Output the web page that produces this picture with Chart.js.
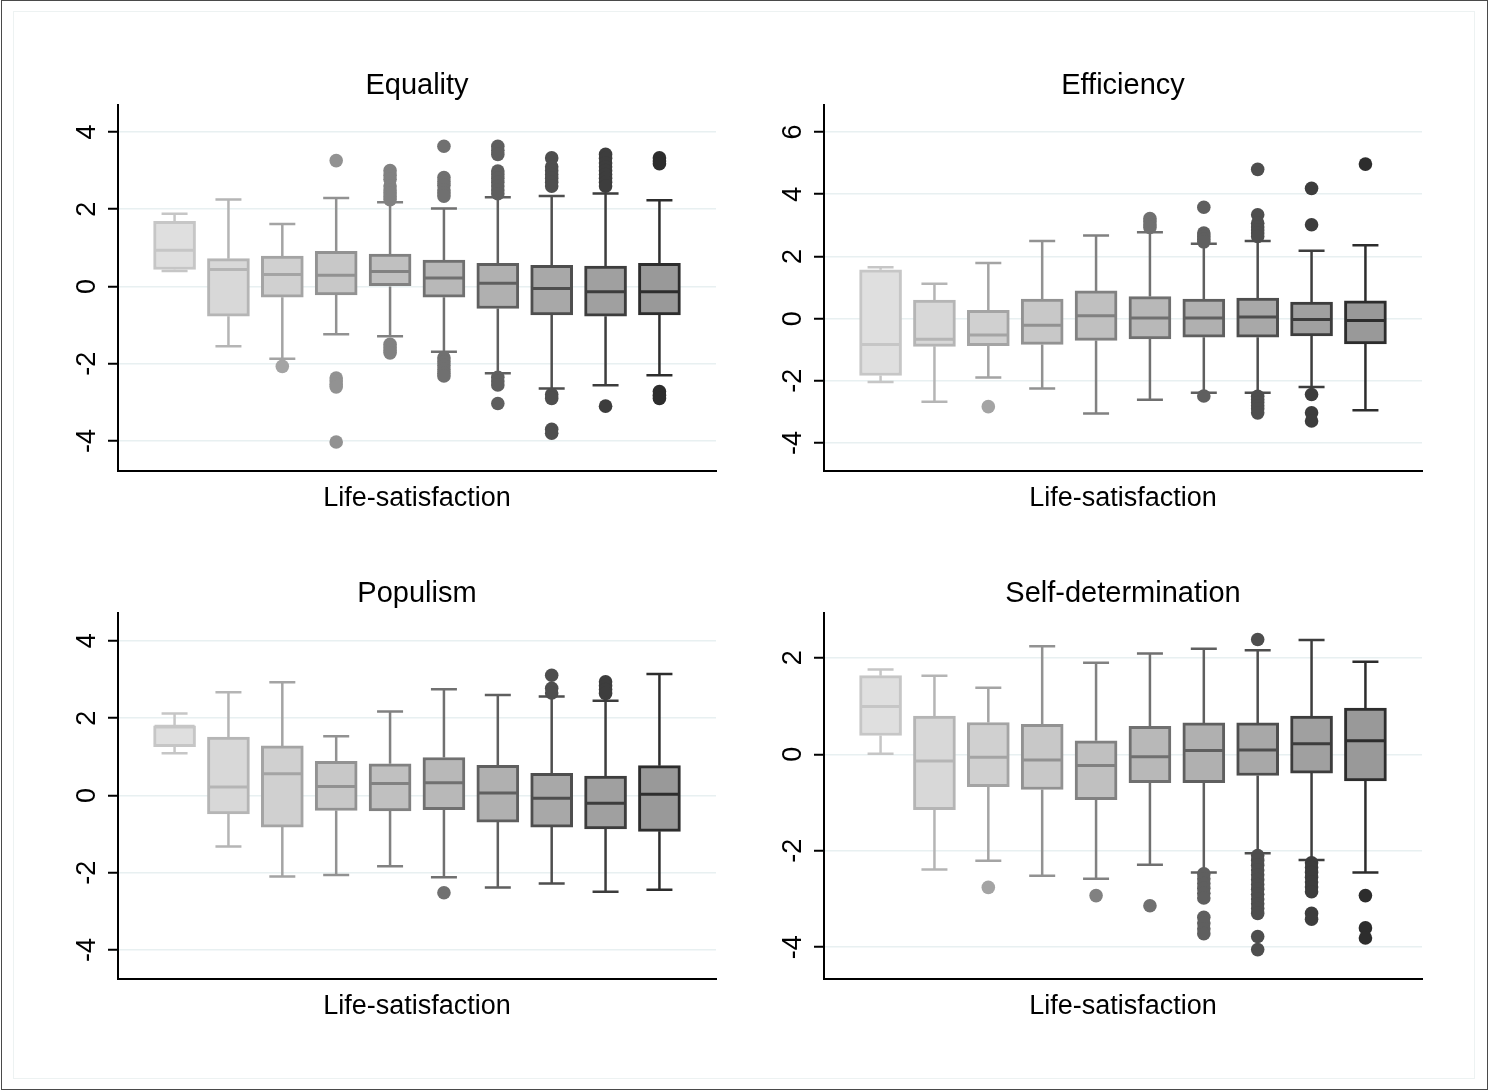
<!DOCTYPE html>
<html>
<head>
<meta charset="utf-8">
<title>Box plots by life-satisfaction</title>
<script src="https://cdn.jsdelivr.net/npm/chart.js@4.4.1/dist/chart.umd.min.js"></script>
<style>
  html, body { margin: 0; padding: 0; background: #ffffff; }
  body { width: 1488px; height: 1090px; position: relative; overflow: hidden; }
  #frame { position: absolute; left: 1px; top: 0; width: 1485px; height: 1088px; border: 1px solid #4a4a4a; box-sizing: content-box; }
  #inner { position: absolute; left: 13px; top: 11px; width: 1460px; height: 1066px; border: 1px solid #edf2f2; }
  canvas { position: absolute; }
</style>
</head>
<body>
<div id="frame"></div>
<div id="inner"></div>
<canvas id="equality" width="744" height="540" style="left:0px;top:0px"></canvas>
<canvas id="efficiency" width="744" height="540" style="left:706px;top:0px"></canvas>
<canvas id="populism" width="744" height="540" style="left:0px;top:508px"></canvas>
<canvas id="selfdet" width="744" height="540" style="left:706px;top:508px"></canvas>
<script>
// Life-satisfaction groups (one box per group)
const groups = [1, 2, 3, 4, 5, 6, 7, 8, 9, 10];

// ---- Equality ----
const equalityLowerWhisker = [0.40, -1.55, -1.87, -1.24, -1.29, -1.69, -2.25, -2.64, -2.56, -2.30];
const equalityQ1           = [0.44, -0.77, -0.28, -0.22, 0.00, -0.28, -0.57, -0.74, -0.77, -0.74];
const equalityMedian       = [0.94, 0.44, 0.31, 0.29, 0.39, 0.22, 0.08, -0.05, -0.14, -0.14];
const equalityQ3           = [1.69, 0.72, 0.79, 0.91, 0.84, 0.68, 0.60, 0.55, 0.53, 0.60];
const equalityUpperWhisker = [1.88, 2.25, 1.62, 2.29, 2.18, 2.02, 2.31, 2.34, 2.41, 2.23];
const equalityOutliers = [
  [],
  [],
  [-2.07],
  [3.26, -2.37, -2.45, -2.53, -2.60, -4.03],
  [3.00, 2.88, 2.78, 2.60, 2.50, 2.42, 2.33, 2.25, -1.50, -1.58, -1.66, -1.72],
  [3.63, 2.82, 2.72, 2.62, 2.50, 2.42, 2.34, -1.85, -1.95, -2.05, -2.15, -2.25, -2.32],
  [3.63, 3.53, 3.42, 2.99, 2.90, 2.80, 2.70, 2.60, 2.50, 2.40, -2.35, -2.45, -2.55, -3.03],
  [3.33, 3.10, 3.00, 2.90, 2.80, 2.70, 2.60, -2.80, -2.90, -3.70, -3.80],
  [3.42, 3.32, 3.20, 3.10, 3.00, 2.90, 2.80, 2.70, 2.60, -3.10],
  [3.33, 3.25, 3.18, -2.72, -2.82, -2.90]
];
const equalityTicks = [-4, -2, 0, 2, 4];

// ---- Efficiency ----
const efficiencyLowerWhisker = [-2.04, -2.67, -1.89, -2.25, -3.05, -2.61, -2.38, -2.38, -2.20, -2.95];
const efficiencyQ1           = [-1.83, -0.89, -0.87, -0.83, -0.70, -0.65, -0.60, -0.60, -0.56, -0.81];
const efficiencyMedian       = [-0.83, -0.66, -0.53, -0.21, 0.09, 0.02, 0.02, 0.05, -0.03, -0.06];
const efficiencyQ3           = [1.57, 0.60, 0.27, 0.63, 0.89, 0.71, 0.63, 0.66, 0.53, 0.57];
const efficiencyUpperWhisker = [1.65, 1.12, 1.79, 2.50, 2.67, 2.78, 2.41, 2.50, 2.18, 2.36];
const efficiencyOutliers = [
  [],
  [],
  [-2.83],
  [],
  [],
  [3.22, 3.12, 3.02, 2.93],
  [3.58, 2.75, 2.65, 2.55, 2.47, -2.49],
  [4.80, 3.34, 3.07, 2.95, 2.85, 2.75, 2.64, -2.50, -2.60, -2.70, -2.80, -2.90, -3.03],
  [4.19, 3.02, -2.44, -3.03, -3.29],
  [4.97]
];
const efficiencyTicks = [-4, -2, 0, 2, 4, 6];

// ---- Populism ----
const populismLowerWhisker = [1.09, -1.32, -2.10, -2.06, -1.83, -2.12, -2.38, -2.28, -2.49, -2.44];
const populismQ1           = [1.26, -0.48, -0.82, -0.39, -0.40, -0.37, -0.69, -0.82, -0.87, -0.93];
const populismMedian       = [1.79, 0.22, 0.56, 0.23, 0.31, 0.33, 0.06, -0.07, -0.20, 0.03];
const populismQ3           = [1.80, 1.51, 1.28, 0.88, 0.82, 0.98, 0.78, 0.57, 0.50, 0.77];
const populismUpperWhisker = [2.12, 2.67, 2.93, 1.53, 2.17, 2.75, 2.60, 2.56, 2.45, 3.14];
const populismOutliers = [
  [],
  [],
  [],
  [],
  [],
  [-2.52],
  [],
  [3.11, 2.77, 2.65],
  [2.94, 2.84, 2.74, 2.64],
  []
];
const populismTicks = [-4, -2, 0, 2, 4];

// ---- Self-determination ----
const selfDetLowerWhisker = [0.01, -2.39, -2.21, -2.52, -2.58, -2.29, -2.45, -2.05, -2.19, -2.45];
const selfDetQ1           = [0.39, -1.15, -0.67, -0.73, -0.94, -0.59, -0.59, -0.44, -0.39, -0.55];
const selfDetMedian       = [0.99, -0.14, -0.06, -0.12, -0.23, -0.05, 0.08, 0.09, 0.22, 0.28];
const selfDetQ3           = [1.63, 0.79, 0.66, 0.62, 0.28, 0.58, 0.65, 0.65, 0.79, 0.96];
const selfDetUpperWhisker = [1.76, 1.63, 1.38, 2.24, 1.90, 2.09, 2.19, 2.16, 2.37, 1.92];
const selfDetOutliers = [
  [],
  [],
  [-2.76],
  [],
  [-2.93],
  [-3.14],
  [-2.48, -2.58, -2.68, -2.78, -2.88, -2.98, -3.38, -3.50, -3.62, -3.72],
  [2.38, -2.10, -2.20, -2.30, -2.40, -2.50, -2.60, -2.70, -2.80, -2.90, -3.00, -3.10, -3.20, -3.30, -3.78, -4.05],
  [-2.25, -2.35, -2.45, -2.55, -2.65, -2.75, -2.85, -3.30, -3.42],
  [-2.93, -3.60, -3.81]
];
const selfDetTicks = [-4, -2, 0, 2];

// Grey ramp, light to dark across the groups
const boxFills  = ['#dfdfdf', '#d8d8d8', '#d0d0d0', '#c8c8c8', '#c0c0c0', '#b8b8b8', '#b0b0b0', '#a8a8a8', '#a0a0a0', '#999999'];
const boxLines  = ['#c6c6c6', '#b5b5b5', '#a4a4a4', '#929292', '#818181', '#707070', '#5f5f5f', '#4e4e4e', '#3d3d3d', '#2d2d2d'];

const FONT = "'Liberation Sans', Arial, Helvetica, sans-serif";
const BOX_WIDTH = 42;
const CAP_WIDTH = 26;

// Whiskers and caps go under the boxes; medians go on top of the box fill.
const boxPlotPlugin = {
  id: 'boxPlotParts',
  beforeDatasetsDraw(chart, args, opts) {
    const { ctx, scales: { x, y } } = chart;
    const st = opts.stats;
    ctx.save();
    ctx.lineWidth = 2.5;
    ctx.lineCap = 'butt';
    groups.forEach((g, i) => {
      const cx = x.getPixelForValue(g);
      ctx.strokeStyle = boxLines[i];
      const yLo = y.getPixelForValue(st.lo[i]);
      const yQ1 = y.getPixelForValue(st.q1[i]);
      const yQ3 = y.getPixelForValue(st.q3[i]);
      const yHi = y.getPixelForValue(st.hi[i]);
      ctx.beginPath();
      ctx.moveTo(cx, yQ3); ctx.lineTo(cx, yHi);
      ctx.moveTo(cx, yQ1); ctx.lineTo(cx, yLo);
      ctx.moveTo(cx - CAP_WIDTH / 2, yHi); ctx.lineTo(cx + CAP_WIDTH / 2, yHi);
      ctx.moveTo(cx - CAP_WIDTH / 2, yLo); ctx.lineTo(cx + CAP_WIDTH / 2, yLo);
      ctx.stroke();
    });
    ctx.restore();
  },
  afterDatasetDraw(chart, args, opts) {
    if (args.meta.type !== 'bar') return;
    const { ctx, scales: { x, y } } = chart;
    const st = opts.stats;
    ctx.save();
    ctx.lineWidth = 3;
    groups.forEach((g, i) => {
      const cx = x.getPixelForValue(g);
      const ym = y.getPixelForValue(st.med[i]);
      ctx.strokeStyle = boxLines[i];
      ctx.beginPath();
      ctx.moveTo(cx - BOX_WIDTH / 2 + 1, ym);
      ctx.lineTo(cx + BOX_WIDTH / 2 - 1, ym);
      ctx.stroke();
    });
    ctx.restore();
  }
};

function makePanel(canvasId, title, st, yMin, yMax, yTicks) {
  const boxes = groups.map((g, i) => ({ x: g, y: [st.q1[i], st.q3[i]] }));
  const outPts = [];
  const outColors = [];
  groups.forEach((g, i) => {
    st.out[i].forEach(v => { outPts.push({ x: g, y: v }); outColors.push(boxLines[i]); });
  });

  new Chart(document.getElementById(canvasId), {
    type: 'bar',
    data: {
      datasets: [
        {
          type: 'bar',
          data: boxes,
          backgroundColor: boxFills,
          borderColor: boxLines,
          borderWidth: 3,
          borderSkipped: false,
          barThickness: BOX_WIDTH,
          order: 1
        },
        {
          type: 'scatter',
          data: outPts,
          pointRadius: 6.8,
          pointBackgroundColor: outColors,
          pointBorderWidth: 0,
          order: 0
        }
      ]
    },
    options: {
      responsive: false,
      animation: false,
      events: [],
      devicePixelRatio: 1,
      layout: { padding: { left: 0, right: 28, top: 68.6, bottom: 24.8 } },
      plugins: {
        legend: { display: false },
        tooltip: { enabled: false },
        title: {
          display: true,
          text: title,
          fullSize: false,
          color: '#000000',
          font: { family: FONT, size: 29, weight: 'normal' },
          padding: { top: 0, bottom: 1.6 }
        },
        boxPlotParts: { stats: st }
      },
      scales: {
        x: {
          type: 'linear',
          offset: false,
          min: -0.05,
          max: 11.05,
          ticks: { display: false },
          grid: { display: false, offset: false },
          border: { display: true, color: '#000000', width: 2 },
          title: {
            display: true,
            text: 'Life-satisfaction',
            color: '#000000',
            font: { family: FONT, size: 27 },
            padding: 0
          },
          afterFit(s) { s.height = 44.2; }
        },
        y: {
          type: 'linear',
          min: yMin,
          max: yMax,
          afterBuildTicks(s) { s.ticks = yTicks.map(v => ({ value: v })); },
          ticks: {
            color: '#000000',
            font: { family: FONT, size: 27 },
            minRotation: 90,
            maxRotation: 90,
            crossAlign: 'center',
            padding: 8
          },
          grid: {
            color: '#e8f0f1',
            lineWidth: 1.5,
            tickLength: 10,
            tickColor: '#000000',
            tickWidth: 2
          },
          border: { display: true, color: '#000000', width: 2 },
          afterFit(s) { s.width = 118; }
        }
      }
    },
    plugins: [boxPlotPlugin]
  });
}

makePanel('equality', 'Equality', {
  lo: equalityLowerWhisker, q1: equalityQ1, med: equalityMedian, q3: equalityQ3, hi: equalityUpperWhisker, out: equalityOutliers
}, -4.78, 4.70, equalityTicks);

makePanel('efficiency', 'Efficiency', {
  lo: efficiencyLowerWhisker, q1: efficiencyQ1, med: efficiencyMedian, q3: efficiencyQ3, hi: efficiencyUpperWhisker, out: efficiencyOutliers
}, -4.90, 6.87, efficiencyTicks);

makePanel('populism', 'Populism', {
  lo: populismLowerWhisker, q1: populismQ1, med: populismMedian, q3: populismQ3, hi: populismUpperWhisker, out: populismOutliers
}, -4.75, 4.72, populismTicks);

makePanel('selfdet', 'Self-determination', {
  lo: selfDetLowerWhisker, q1: selfDetQ1, med: selfDetMedian, q3: selfDetQ3, hi: selfDetUpperWhisker, out: selfDetOutliers
}, -4.66, 2.93, selfDetTicks);
</script>
</body>
</html>
